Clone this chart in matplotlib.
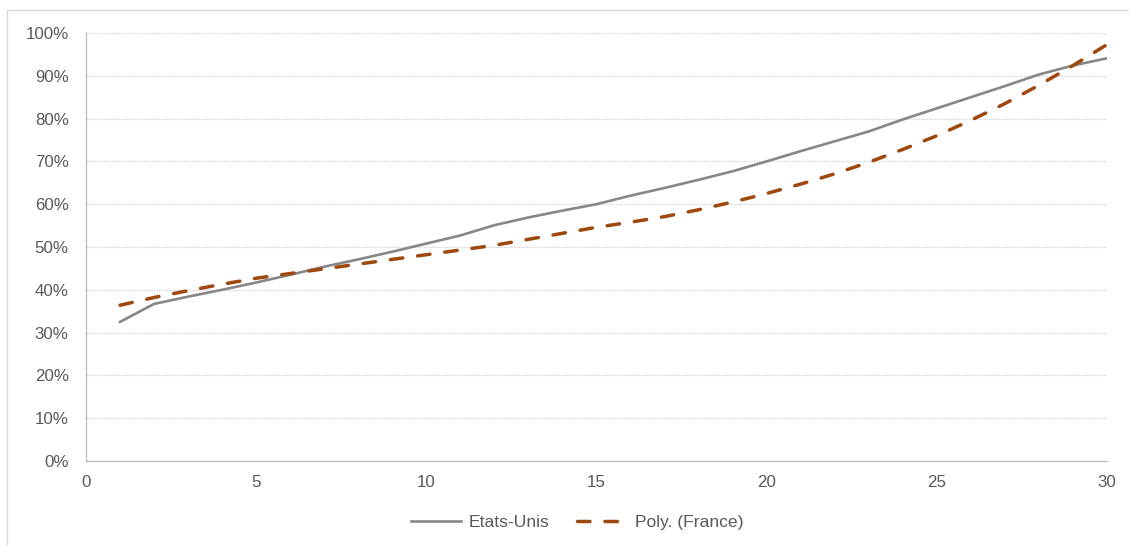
import matplotlib
matplotlib.use("Agg")
import matplotlib.pyplot as plt
from matplotlib.patches import Rectangle

plt.rcParams['font.family'] = ['Liberation Sans', 'DejaVu Sans']

years = list(range(1, 31))
etats_unis = [32.5, 36.7, 38.4, 40.0, 41.7, 43.5, 45.4, 47.1, 48.9, 50.8,
              52.7, 55.1, 56.9, 58.5, 60.0, 62.0, 63.8, 65.7, 67.7, 70.0,
              72.4, 74.7, 77.0, 79.8, 82.4, 85.0, 87.6, 90.3, 92.4, 94.1]
poly_france = [36.4, 38.2, 39.8, 41.3, 42.7, 43.8, 44.9, 46.0, 47.1, 48.2,
               49.3, 50.4, 51.8, 53.2, 54.6, 55.8, 57.1, 58.7, 60.5, 62.5,
               64.7, 67.1, 69.8, 72.8, 76.0, 79.6, 83.5, 87.8, 92.4, 97.3]
x_ticks = [0, 5, 10, 15, 20, 25, 30]
y_ticks = [0, 10, 20, 30, 40, 50, 60, 70, 80, 90, 100]

W, H = 1129, 545
fig = plt.figure(figsize=(W / 100, H / 100), dpi=100)
fig.patches.append(Rectangle((7 / W, -0.1), 1.2, (H - 10) / H + 0.1,
                             transform=fig.transFigure, fill=False,
                             edgecolor='#d9d9d9', linewidth=1.0))
ax = fig.add_axes([86 / W, (H - 461) / H, (1107 - 86) / W, (461 - 33) / H])

ax.plot(years, etats_unis, color='#878787', linewidth=1.9, label='Etats-Unis',
        solid_joinstyle='round')
ax.plot(years, poly_france, color='#9e480e', linewidth=2.5,
        dashes=(3.6, 4.3), label='Poly. (France)', dash_capstyle='round')

ax.set_xlim(0, 30)
ax.set_ylim(0, 100)
ax.set_xticks(x_ticks)
ax.set_yticks(y_ticks)
ax.set_yticklabels([f"{v}%" for v in y_ticks])
ax.tick_params(axis='both', length=0, labelsize=12.2, labelcolor='#595959')
ax.tick_params(axis='y', pad=12.5)
ax.tick_params(axis='x', pad=10)
ax.grid(axis='y', color='#d0d0d0', linestyle=(0, (1, 1)), linewidth=0.9)
ax.set_axisbelow(True)
for s in ['top', 'right']:
    ax.spines[s].set_visible(False)
for s in ['left', 'bottom']:
    ax.spines[s].set_color('#bfbfbf')
    ax.spines[s].set_linewidth(1.0)

leg = fig.legend(loc='center', bbox_to_anchor=(577 / W, (H - 522) / H), ncol=2,
                 frameon=False, fontsize=12.6, handlelength=2.9,
                 columnspacing=1.6, handletextpad=0.4)
for t in leg.get_texts():
    t.set_color('#595959')

fig.savefig('out.png', dpi=100)
